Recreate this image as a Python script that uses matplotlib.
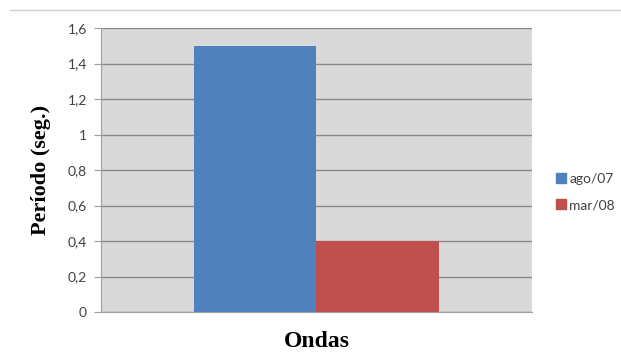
import numpy as np
import matplotlib.pyplot as plt
from matplotlib.lines import Line2D
from matplotlib.ticker import FuncFormatter

series = ['ago/07', 'mar/08']
values = [1.5, 0.4]
colors = ['#4f81bd', '#c0504d']
category = 'Ondas'
yticks = [0, 0.2, 0.4, 0.6, 0.8, 1.0, 1.2, 1.4, 1.6]

fig = plt.figure(figsize=(6.21, 3.56), dpi=100)
ax = fig.add_axes([0.1626, 0.1236, 0.694, 0.7977])
ax.set_facecolor('#d9d9d9')

# top border line of the chart frame
fig.add_artist(Line2D([0.016, 1.0], [0.972, 0.972], color='#d0d0d0', lw=1))

w = 0.284
offsets = [-w / 2, w / 2]
for name, v, c, off in zip(series, values, colors, offsets):
    ax.bar(off, v, width=w, color=c, label=name, zorder=3)

ax.set_xlim(-0.5, 0.5)
ax.set_ylim(0, 1.6)
ax.set_yticks(yticks)
ax.yaxis.set_major_formatter(FuncFormatter(lambda v, p: ('%g' % round(v, 1)).replace('.', ',')))
ax.set_xticks([])
ax.grid(axis='y', color='#8a8a8a', lw=1, zorder=1)
for s in ['top', 'right']:
    ax.spines[s].set_visible(False)
ax.spines['left'].set_color('#a0a0a0')
ax.spines['bottom'].set_color('#a0a0a0')
ax.tick_params(axis='y', length=5, color='#a0a0a0', labelsize=10, labelcolor='#404040', pad=5)
for t in ax.get_yticklabels():
    t.set_fontfamily('Lato')

ax.set_ylabel('Período (seg.)', fontfamily='Liberation Serif', fontweight='bold', fontsize=16, labelpad=12)
ax.set_xlabel(category, fontfamily='Liberation Serif', fontweight='bold', fontsize=17, labelpad=14)

handles = [Line2D([], [], marker='s', ls='none', color=c, markersize=7) for c in colors]
fig.legend(handles, series, loc='center left', bbox_to_anchor=(0.872, 0.46), frameon=False,
           prop={'family': 'Lato', 'size': 10}, handletextpad=0.1, labelspacing=1.0,
           handlelength=1.0, labelcolor='#404040')

fig.savefig('out.png', dpi=100)
